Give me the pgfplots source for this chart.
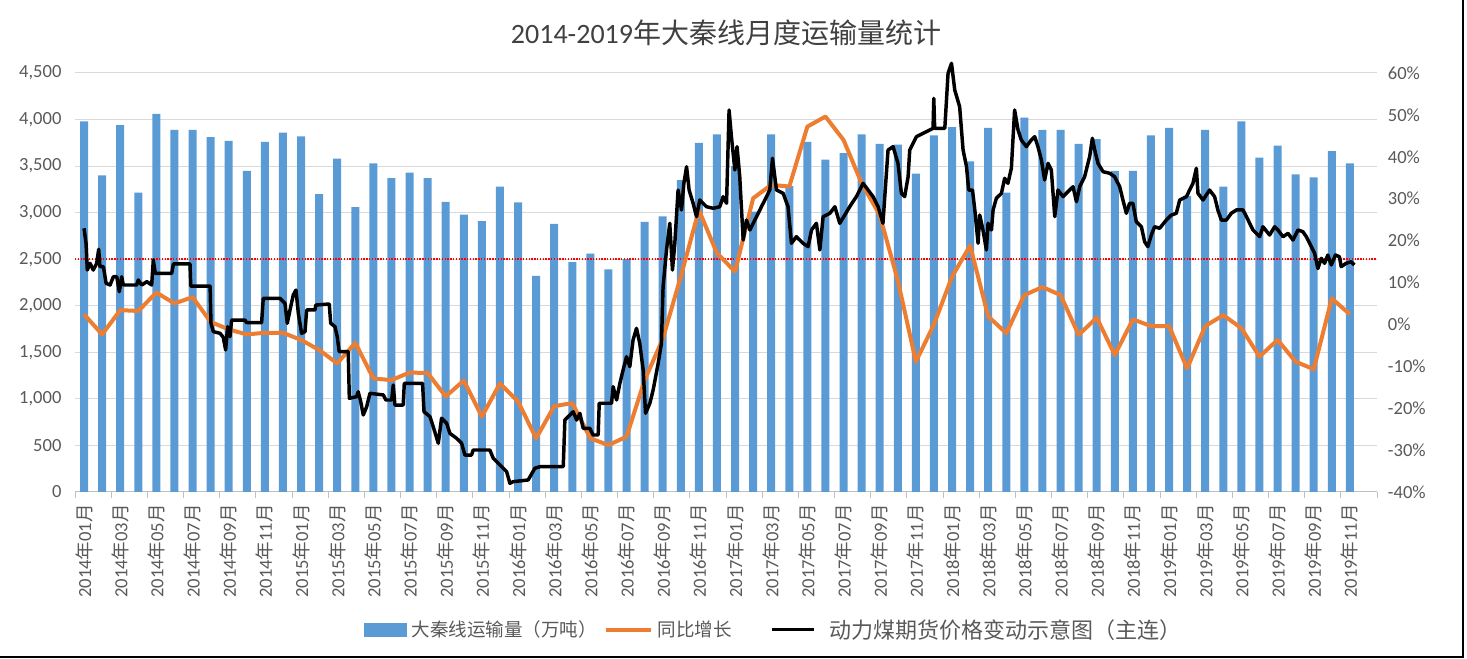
\documentclass[border=0pt]{standalone}
\usepackage{pgfplots}
\pgfplotsset{compat=1.18}
\usepackage{fontspec}
\setmainfont{Carlito}
\newfontfamily\cjk{Noto Sans CJK SC}
\definecolor{barblue}{HTML}{5B9BD5}
\definecolor{lorange}{HTML}{ED7D31}
\definecolor{txtgray}{HTML}{595959}
\definecolor{titlegray}{HTML}{404040}
\definecolor{gridgray}{HTML}{D9D9D9}
\definecolor{axisgray}{HTML}{BFBFBF}
\newcommand{\ym}[2]{#1{\cjk 年}#2{\cjk 月}}
\newcommand{\tickfont}{\fontsize{13.9pt}{16pt}\selectfont}
\begin{document}
\begin{tikzpicture}
\path[use as bounding box] (0pt,0pt) rectangle (1100.25pt,494.25pt);
% ---------- axis 1: bars, grid, left and x ticks ----------
\begin{axis}[
 at={(56.25pt,125.25pt)}, anchor=south west,
 scale only axis, width=976.5pt, height=314.25pt,
 xmin=-0.5, xmax=71.5, ymin=0, ymax=4500,
 axis x line*=bottom, axis y line*=left,
 y axis line style={draw=none},
 x axis line style={draw=axisgray, line width=0.75pt, -},
 ytick={0,500,...,4500},
 ymajorgrids, major grid style={gridgray, line width=0.75pt},
 xtick={0,2,...,70},
 xticklabels={\ym{2014}{01},\ym{2014}{03},\ym{2014}{05},\ym{2014}{07},\ym{2014}{09},\ym{2014}{11},
 \ym{2015}{01},\ym{2015}{03},\ym{2015}{05},\ym{2015}{07},\ym{2015}{09},\ym{2015}{11},
 \ym{2016}{01},\ym{2016}{03},\ym{2016}{05},\ym{2016}{07},\ym{2016}{09},\ym{2016}{11},
 \ym{2017}{01},\ym{2017}{03},\ym{2017}{05},\ym{2017}{07},\ym{2017}{09},\ym{2017}{11},
 \ym{2018}{01},\ym{2018}{03},\ym{2018}{05},\ym{2018}{07},\ym{2018}{09},\ym{2018}{11},
 \ym{2019}{01},\ym{2019}{03},\ym{2019}{05},\ym{2019}{07},\ym{2019}{09},\ym{2019}{11}},
 major tick length=0pt,
 minor xtick={-0.5,1.5,...,71.5},
 minor tick length=4.5pt,
 tick align=outside,
 major tick style={draw=none},
 minor tick style={draw=axisgray, line width=0.75pt},
 ticklabel style={font=\tickfont, text=txtgray},
 xticklabel style={rotate=90, anchor=east, inner sep=0pt},
 xticklabel shift=9pt,
 yticklabel style={inner sep=0pt},
 yticklabel shift=10pt,
 /pgf/number format/1000 sep={,},
 /pgf/number format/assume math mode=true,
]
\addplot[ybar, bar width=6pt, fill=barblue, draw=none] coordinates {
(0,3980) (1,3400) (2,3940) (3,3215) (4,4060) (5,3890) (6,3890) (7,3810) (8,3770) (9,3450)
(10,3760) (11,3860) (12,3820) (13,3200) (14,3580) (15,3060) (16,3530) (17,3370) (18,3430) (19,3370)
(20,3115) (21,2980) (22,2910) (23,3280) (24,3110) (25,2320) (26,2880) (27,2470) (28,2560) (29,2390)
(30,2500) (31,2900) (32,2960) (33,3350) (34,3750) (35,3840) (36,3500) (37,3010) (38,3840) (39,3285)
(40,3760) (41,3570) (42,3640) (43,3840) (44,3740) (45,3730) (46,3420) (47,3830) (48,3920) (49,3550)
(50,3910) (51,3215) (52,4020) (53,3890) (54,3890) (55,3740) (56,3790) (57,3450) (58,3450) (59,3830)
(60,3910) (61,3180) (62,3890) (63,3280) (64,3980) (65,3590) (66,3720) (67,3410) (68,3380) (69,3660)
(70,3530)};
\addplot[red, densely dotted, line width=1.1pt] coordinates {(-0.5,2500) (71.5,2500)};
\end{axis}
% ---------- axis 2: YoY growth, right axis ----------
\begin{axis}[
 at={(56.25pt,125.25pt)}, anchor=south west,
 scale only axis, width=976.5pt, height=314.25pt,
 xmin=-0.5, xmax=71.5, ymin=-40, ymax=60,
 axis y line*=right, axis x line=none,
 y axis line style={draw=none},
 ytick={-40,-30,...,60},
 major tick length=0pt, tick style={draw=none},
 yticklabel={\pgfmathprintnumber{\tick}\%},
 ticklabel style={font=\tickfont, text=txtgray},
 yticklabel style={inner sep=0pt, anchor=west},
 yticklabel shift=8pt,
 /pgf/number format/assume math mode=true,
]
\addplot[lorange, line width=3pt, line join=round] coordinates {
(0,2.4) (1,-2.4) (2,3.4) (3,3.2) (4,7.6) (5,5.0) (6,6.5) (7,0.6) (8,-1.2) (9,-2.4)
(10,-2.0) (11,-2.0) (12,-3.7) (13,-6.1) (14,-9.3) (15,-4.4) (16,-12.9) (17,-13.3) (18,-11.5) (19,-11.6)
(20,-17.2) (21,-13.4) (22,-22.0) (23,-14.1) (24,-18.4) (25,-27.2) (26,-19.5) (27,-18.8) (28,-27.2) (29,-28.8)
(30,-26.8) (31,-13.3) (32,-3.5) (33,11.4) (34,27.3) (35,17.0) (36,12.6) (37,30.1) (38,33.3) (39,32.9)
(40,47.2) (41,49.6) (42,44.0) (43,33.7) (44,26.1) (45,10.5) (46,-8.9) (47,0.0) (48,11.4) (49,18.8)
(50,1.9) (51,-2.1) (52,7.0) (53,8.9) (54,7.0) (55,-2.5) (56,1.6) (57,-7.3) (58,1.2) (59,-0.4)
(60,-0.4) (61,-10.5) (62,-0.4) (63,2.2) (64,-0.9) (65,-7.7) (66,-3.7) (67,-8.9) (68,-10.7) (69,6.2)
(70,2.4)};
\end{axis}
% ---------- axis 3: futures price sketch + legend ----------
\begin{axis}[
 at={(56.25pt,125.25pt)}, anchor=south west,
 scale only axis, width=976.5pt, height=314.25pt,
 xmin=-0.5, xmax=71.5, ymin=0, ymax=4500,
 hide axis, clip=false,
 legend style={draw=none, fill=none, at={(0.536,-0.329)}, anchor=center,
   font=\tickfont\cjk, text=txtgray, column sep=0pt,
   nodes={inner sep=0pt}},
 legend columns=3, legend cell align=left,
]
\addlegendimage{legend image code/.code={\fill[barblue] (0pt,-4.9pt) rectangle (31.5pt,4.9pt);}}
\addlegendentry{\rule{3.75pt}{0pt}大秦线运输量（万吨）\rule{5.25pt}{0pt}}
\addlegendimage{legend image code/.code={\draw[lorange, line width=3pt] (0pt,0pt) -- (33.75pt,0pt);}}
\addlegendentry{\rule{3.75pt}{0pt}同比增长\rule{28.5pt}{0pt}}
\addplot[black, line width=2.6pt, line join=round,
  legend image code/.code={\draw[black, line width=2.4pt] (0pt,0pt) -- (32pt,0pt);}] coordinates {
(0,2832) (0.11,2671) (0.18,2384) (0.33,2456) (0.51,2384) (0.70,2456) (0.81,2607) (0.88,2420) (1.07,2420) (1.22,2241)
(1.44,2223) (1.62,2312) (1.81,2312) (1.95,2151) (2.08,2312) (2.17,2223) (2.91,2223) (3.00,2277) (3.19,2223) (3.47,2259)
(3.74,2223) (3.83,2492) (3.94,2349) (4.85,2349) (4.94,2449) (5.86,2449) (5.90,2212) (6.97,2212) (7.02,1812) (7.15,1722)
(7.52,1704) (7.70,1661) (7.83,1525) (7.94,1775) (8.07,1668) (8.16,1847) (8.90,1847) (8.99,1818) (9.82,1818) (9.91,2080)
(10.83,2080) (11.11,2027) (11.24,1812) (11.39,1955) (11.57,2116) (11.72,2169) (11.85,1919) (12.03,1704) (12.22,1722) (12.31,1955)
(12.77,1955) (12.82,2008) (13.56,2019) (13.64,1812) (13.88,1775) (14.00,1668) (14.11,1507) (14.61,1507) (14.67,1006) (15.07,1024)
(15.16,1077) (15.30,970) (15.44,827) (15.63,916) (15.81,1060) (16.55,1042) (16.69,988) (17.01,988) (17.10,1149) (17.19,934)
(17.65,934) (17.71,1167) (18.72,1167) (18.80,862) (19.13,809) (19.31,701) (19.59,523) (19.77,792) (20.05,738) (20.23,630)
(20.60,577) (20.88,523) (21.06,397) (21.43,397) (21.52,451) (22.44,451) (22.63,362) (23.00,290) (23.37,218) (23.55,93)
(23.73,111) (24.56,129) (24.93,255) (25.21,272) (26.50,272) (26.59,773) (26.87,827) (27.05,862) (27.24,773) (27.42,845)
(27.60,684) (27.97,684) (28.15,612) (28.43,612) (28.49,953) (29.17,953) (29.26,1131) (29.45,988) (29.63,1167) (29.81,1310)
(30.00,1453) (30.18,1346) (30.36,1632) (30.55,1758) (30.73,1597) (30.92,1310) (31.05,845) (31.29,953) (31.47,1095) (31.75,1382)
(31.93,1597) (32.02,2205) (32.21,2599) (32.39,2886) (32.54,2384) (32.67,2671) (32.85,3243) (33.04,3029) (33.17,3315) (33.32,3494)
(33.46,3243) (33.68,3101) (33.87,2957) (34.05,3136) (34.42,3064) (34.79,3047) (35.16,3064) (35.34,3172) (35.53,3101) (35.67,4103)
(35.80,3816) (35.99,3458) (36.11,3709) (36.26,3386) (36.45,2706) (36.63,2921) (36.82,2814) (37.19,2957) (37.46,3064) (37.74,3172)
(37.92,3243) (38.07,3584) (38.29,3243) (38.66,3208) (38.93,3064) (39.12,2671) (39.39,2742) (39.76,2671) (40.04,2635) (40.23,2814)
(40.50,2886) (40.69,2599) (40.87,2957) (41.24,2993) (41.52,3064) (41.79,2886) (42.07,2975) (42.34,3064) (42.71,3172) (43.08,3315)
(43.36,3243) (43.63,3172) (43.91,3064) (44.18,2886) (44.28,3172) (44.46,3673) (44.74,3709) (45.01,3530) (45.20,3208) (45.38,3172)
(45.57,3386) (45.66,3673) (46.03,3816) (46.58,3870) (46.95,3906) (46.99,4228) (47.04,3906) (47.60,3906) (47.78,4497) (47.97,4604)
(48.15,4317) (48.42,4138) (48.61,3673) (48.80,3494) (48.92,3243) (49.13,3243) (49.26,3029) (49.44,2671) (49.53,2975) (49.71,2814)
(49.90,2599) (49.99,2886) (50.18,2814) (50.27,3029) (50.45,3154) (50.73,3208) (50.91,3369) (51.09,3315) (51.28,3477) (51.46,4103)
(51.65,3888) (51.83,3780) (52.11,3709) (52.38,3780) (52.57,3816) (52.75,3709) (52.94,3566) (53.12,3351) (53.31,3530) (53.49,3458)
(53.68,2957) (53.86,3243) (54.14,3172) (54.32,3208) (54.69,3279) (54.88,3118) (55.06,3279) (55.33,3386) (55.61,3601) (55.76,3799)
(55.89,3673) (56.07,3530) (56.35,3440) (56.72,3423) (56.99,3386) (57.27,3279) (57.45,3136) (57.64,2993) (57.82,3101) (58.00,3101)
(58.19,2903) (58.47,2849) (58.65,2688) (58.83,2635) (59.02,2760) (59.20,2849) (59.48,2832) (59.85,2921) (60.13,2975) (60.40,2993)
(60.59,3136) (60.96,3172) (61.32,3315) (61.51,3477) (61.60,3208) (61.88,3136) (62.24,3243) (62.52,3172) (62.70,3029) (62.89,2921)
(63.17,2921) (63.44,2993) (63.72,3029) (64.09,3029) (64.28,2957) (64.64,2814) (65.01,2742) (65.19,2849) (65.56,2760) (65.84,2849)
(66.02,2814) (66.30,2742) (66.58,2778) (66.85,2706) (67.13,2814) (67.40,2796) (67.59,2742) (67.87,2635) (68.05,2564) (68.23,2400)
(68.42,2510) (68.60,2456) (68.78,2545) (68.97,2438) (69.20,2545) (69.42,2527) (69.52,2420) (69.79,2456) (70.07,2473) (70.25,2438)};
\addlegendentry{\rule{10.5pt}{0pt}\fontsize{16.5pt}{19pt}\selectfont 动力煤期货价格变动示意图（主连）}
\end{axis}
% ---------- title and frame ----------
\node[font=\fontsize{21pt}{25pt}\selectfont, text=titlegray] at (544.5pt,469.5pt)
  {2014-2019{\cjk 年大秦线月度运输量统计}};
\draw[black, line width=2pt] (0pt,1.5pt) -- (1097.25pt,1.5pt) -- (1097.25pt,494.25pt);
\end{tikzpicture}
\end{document}
